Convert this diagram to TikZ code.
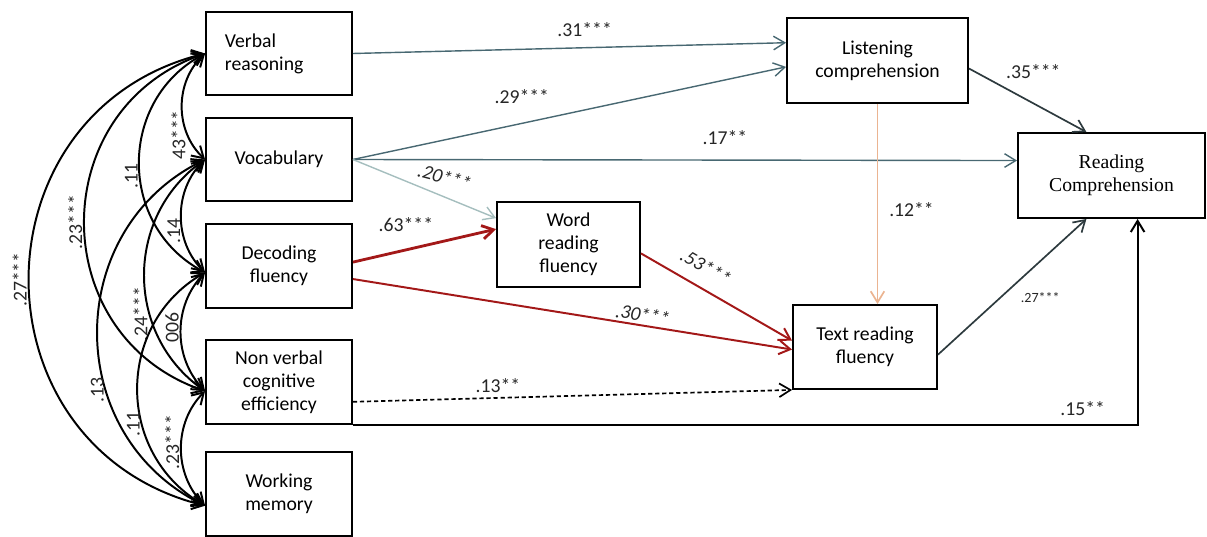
\documentclass[tikz,border=0pt]{standalone}
\usepackage{fontspec}
\setmainfont{Carlito}
\newfontfamily\rcserif{Liberation Serif}
\usetikzlibrary{arrows.meta}

\definecolor{slate}{RGB}{72,104,114}
\definecolor{mist}{RGB}{165,190,190}
\definecolor{brick}{RGB}{163,24,24}
\definecolor{sand}{RGB}{235,180,145}
\definecolor{ink}{RGB}{45,58,62}

\newcommand\boxfont{\fontsize{14}{16.2}\selectfont}
\newcommand\coeffont{\fontsize{14}{16}\selectfont}

\tikzset{
  var/.style={draw, line width=1.3pt, minimum width=3.65cm, minimum height=2.08cm,
    align=center, inner sep=2pt, font=\boxfont},
  lnk/.style={->, line width=1pt},
  cov/.style={<->, line width=1.4pt},
  coef/.style={font=\coeffont, text=black!85, inner sep=1pt},
  coefit/.style={coef, font=\coeffont\itshape},
}

\begin{document}
\begin{tikzpicture}[x=0.025cm, y=-0.025cm, >={Straight Barb[length=2.8mm,width=3.4mm]}]
  \useasboundingbox (0,0) rectangle (1207,537);

  % predictors
  \node[var, align=left, text width=2.7cm] (vr) at (279,53.5) {Verbal\\reasoning};
  \node[var] (voc) at (279,159.5) {Vocabulary};
  \node[var] (dec) at (279,266) {Decoding\\fluency};
  \node[var] (nv)  at (279,382) {Non verbal\\cognitive\\efficiency};
  \node[var] (wm)  at (279,494) {Working\\memory};

  % mediators and outcome
  \node[var, minimum width=3.575cm, minimum height=2.125cm] (wrf) at (568.5,244.5) {Word\\reading\\fluency};
  \node[var, minimum width=4.525cm, minimum height=2.125cm] (lc)  at (877.5,60.5) {Listening\\comprehension};
  \node[var, minimum width=3.6cm, minimum height=2.1cm]     (trf) at (865,347) {Text reading\\fluency};
  \node[var, minimum width=4.675cm, minimum height=2.125cm, font=\rcserif\boxfont] (rc) at (1111.5,175.5) {Reading\\Comprehension};

  % correlations among predictors
  \draw[cov] (vr.west)  to[bend right=76, looseness=1.37] node[coef, pos=.5,  rotate=90, anchor=south] {.27***} (wm.189);
  \draw[cov] (vr.west)  to[bend right=71, looseness=1.29] node[coef, pos=.5,  rotate=90, anchor=south] {.23***} (nv.187);
  \draw[cov] (vr.west)  to[bend right=62, looseness=1.16] node[coef, pos=.55, rotate=90, anchor=south] {.11} (dec.185);
  \draw[cov] (vr.west)  to[bend right=47, looseness=1.01] node[coef, pos=.75, rotate=90, anchor=south] {43***} (voc.west);
  \draw[cov] (voc.west) to[bend right=64, looseness=1.18] node[coef, pos=.64, rotate=90, anchor=south] {.13} (wm.189);
  \draw[cov] (voc.west) to[bend right=55, looseness=1.09] node[coef, pos=.65, rotate=90, anchor=south] {.24***} (nv.187);
  \draw[cov] (voc.west) to[bend right=46, looseness=1.0]  node[coef, pos=.62, rotate=90, anchor=south] {.14} (dec.185);
  \draw[cov] (dec.185)  to[bend right=60, looseness=1.14] node[coef, pos=.63, rotate=90, anchor=south] {.11} (wm.189);
  \draw[cov] (dec.185)  to[bend right=44, looseness=1.0]  node[coef, pos=.47, rotate=90, anchor=south] {006} (nv.187);
  \draw[cov] (nv.187)   to[bend right=45, looseness=1.0]  node[coef, pos=.45, rotate=90, anchor=south] {.23***} (wm.189);

  % paths
  \draw[lnk, slate] (vr.east)  -- node[coef, pos=.535, yshift=4.5mm] {.31***} (lc.169);
  \draw[lnk, slate] (voc.east) -- node[coef, pos=.39, yshift=6.75mm] {.29***} (lc.184);
  \draw[lnk, slate] (voc.east) -- node[coef, pos=.56, yshift=5.5mm] {.17**} (rc.171);
  \draw[lnk, mist]  (voc.east) -- node[coefit, pos=.64, yshift=5mm, rotate=-15] {.20***} (wrf.160);
  \draw[lnk, brick, line width=2pt] (dec.3) -- node[coef, pos=.37, yshift=6.25mm] {.63***} (wrf.168);
  \draw[lnk, brick, line width=1.4pt] (dec.-10) -- node[coefit, pos=.66, yshift=2.75mm, rotate=-9] {.30***} (trf.182);
  \draw[lnk, brick, line width=1.4pt] (wrf.-7) -- node[coefit, pos=.43, yshift=6mm, rotate=-30] {.53***} (trf.175);
  \draw[lnk, densely dashed, black, line width=1.2pt] (nv.-15) -- node[coef, pos=.33, yshift=3mm] {.13**} (trf.south west);
  \draw[lnk, black, line width=1.4pt] (nv.south east) -| node[coef, pos=.465, yshift=4mm] {.15**} (rc.-59);
  \draw[lnk, sand, line width=1.2pt] (lc.south) -- node[coef, pos=.53, xshift=8.5mm] {.12**} (lc.south |- trf.north);
  \draw[lnk, ink, line width=1.2pt] (lc.-5) -- node[coef, pos=.43, xshift=3.45mm, yshift=6mm] {.35***} (rc.120);
  \draw[lnk, ink, line width=1.2pt] (trf.-6) -- node[coef, font=\fontsize{10}{12}\selectfont, pos=.42, xshift=10mm] {.27***} (rc.-120);
\end{tikzpicture}
\end{document}
